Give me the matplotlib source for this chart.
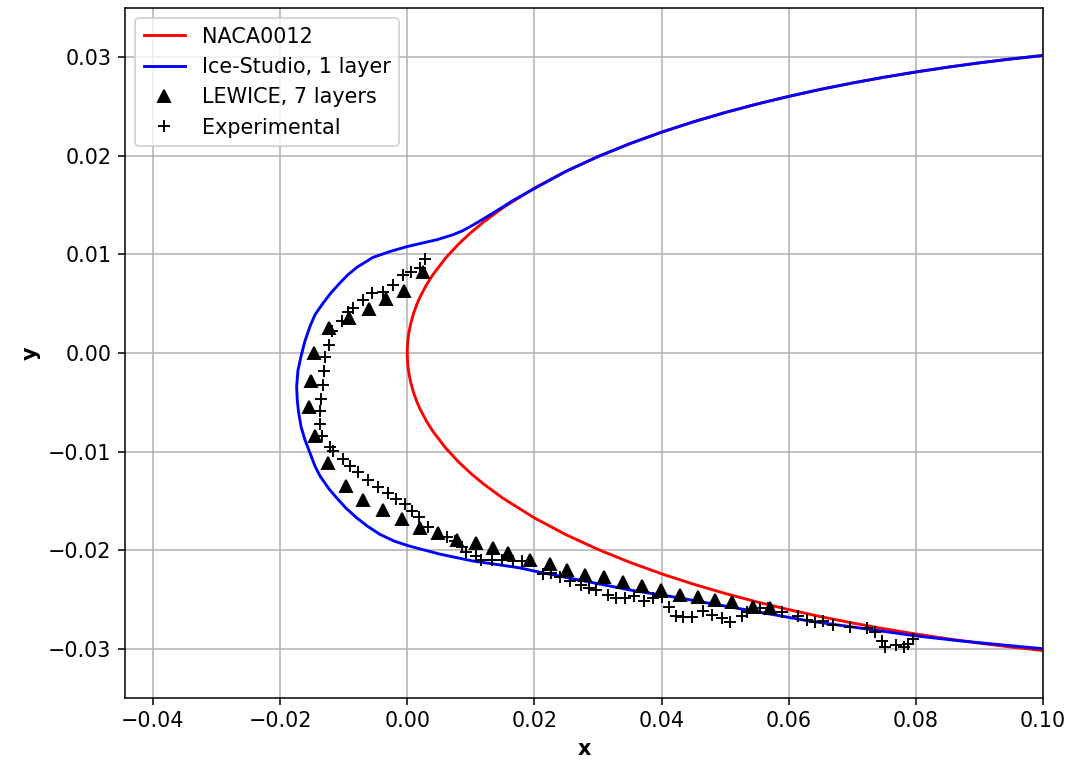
import matplotlib
matplotlib.use("Agg")
import matplotlib.pyplot as plt

# NACA0012 contour (upper side from x=0.1 to the leading edge, then lower side)
naca_x_upper = [0.1, 0.095, 0.09, 0.085, 0.08, 0.075, 0.07, 0.065, 0.06, 0.055, 0.05, 0.045,
                0.04, 0.035, 0.03, 0.025, 0.02, 0.015, 0.012, 0.01, 0.008, 0.006, 0.004,
                0.003, 0.002, 0.0015, 0.001, 0.0005, 0.0002, 0.0001, 0.00005, 0.00001, 0.0]
naca_y_upper = [0.030186, 0.029831, 0.029434, 0.028995, 0.028510, 0.027976, 0.027388,
                0.026743, 0.026033, 0.025254, 0.024396, 0.023449, 0.022401, 0.021234,
                0.019927, 0.018443, 0.016734, 0.014713, 0.013289, 0.012215, 0.011007,
                0.009610, 0.007920, 0.006896, 0.005666, 0.004925, 0.004038, 0.002871,
                0.001825, 0.001294, 0.000916, 0.000411, 0.0]
naca_x_lower = [0.00001, 0.00005, 0.0001, 0.0002, 0.0005, 0.001, 0.0015, 0.002, 0.003,
                0.004, 0.006, 0.008, 0.01, 0.012, 0.015, 0.02, 0.025, 0.03, 0.035, 0.04,
                0.045, 0.05, 0.055, 0.06, 0.065, 0.07, 0.075, 0.08, 0.085, 0.09, 0.095, 0.1]
naca_y_lower = [-0.000411, -0.000916, -0.001294, -0.001825, -0.002871, -0.004038, -0.004925,
                -0.005666, -0.006896, -0.007920, -0.009610, -0.011007, -0.012215, -0.013289,
                -0.014713, -0.016734, -0.018443, -0.019927, -0.021234, -0.022401, -0.023449,
                -0.024396, -0.025254, -0.026033, -0.026743, -0.027388, -0.027976, -0.028510,
                -0.028995, -0.029434, -0.029831, -0.030186]

# Ice-Studio, 1 layer ice shape
ice_x = [0.1, 0.095, 0.09, 0.085, 0.08, 0.075, 0.07, 0.065, 0.06, 0.055, 0.05, 0.045, 0.04,
         0.035, 0.03, 0.025, 0.0209, 0.0167, 0.0135, 0.0104, 0.0087, 0.0072, 0.0047, 0.0020,
         0.0, -0.0027, -0.0054, -0.0079, -0.0094, -0.0106, -0.0120, -0.0132, -0.0145, -0.0153,
         -0.0161, -0.0167, -0.0172, -0.0174, -0.0173, -0.0171, -0.0167, -0.0161, -0.0145,
         -0.0137, -0.0123, -0.0111, -0.0097, -0.0080, -0.0062, -0.0043, -0.0020, 0.0004,
         0.0051, 0.0103, 0.0146, 0.0177, 0.0198, 0.0276, 0.0355, 0.0424, 0.0476, 0.0555,
         0.0633, 0.0712, 0.0800, 0.0869, 0.0950, 0.1]
ice_y = [0.030186, 0.029831, 0.029434, 0.028995, 0.028510, 0.027976, 0.027388, 0.026743,
         0.026033, 0.025254, 0.024396, 0.023449, 0.022401, 0.021234, 0.019927, 0.018443,
         0.0170, 0.0155, 0.0142, 0.0130, 0.0124, 0.0120, 0.0115, 0.0111, 0.0108, 0.0103,
         0.0097, 0.0087, 0.0079, 0.0071, 0.0061, 0.0051, 0.0039, 0.0027, 0.0012, -0.0003,
         -0.0018, -0.0034, -0.0048, -0.0060, -0.0075, -0.0088, -0.0115, -0.0125, -0.0138,
         -0.0147, -0.0157, -0.0167, -0.0176, -0.0184, -0.0191, -0.0196, -0.0204, -0.0211,
         -0.0215, -0.0218, -0.0221, -0.0231, -0.0241, -0.0248, -0.0254, -0.0263, -0.0272,
         -0.0279, -0.0287, -0.0292, -0.0297, -0.0300]

# LEWICE, 7 layers
lew_x = [0.0025, -0.0005, -0.0034, -0.0060, -0.0092, -0.0123, -0.0147, -0.0152, -0.0155,
         -0.0145, -0.0125, -0.0097, -0.0070, -0.0038, -0.0008, 0.0020, 0.0048, 0.0078,
         0.0108, 0.0135, 0.0159, 0.0193, 0.0224, 0.0251, 0.0280, 0.0310, 0.0340, 0.0369,
         0.0399, 0.0429, 0.0457, 0.0484, 0.0511, 0.0544, 0.0571]
lew_y = [0.0082, 0.0063, 0.0055, 0.0045, 0.0036, 0.0025, 0.0000, -0.0028, -0.0055,
         -0.0084, -0.0112, -0.0135, -0.0149, -0.0159, -0.0168, -0.0178, -0.0183, -0.0190,
         -0.0193, -0.0198, -0.0203, -0.0210, -0.0214, -0.0220, -0.0225, -0.0227, -0.0232,
         -0.0236, -0.0240, -0.0245, -0.0248, -0.0251, -0.0253, -0.0258, -0.0259]

# Experimental
exp_x = [0.0028, 0.0020, 0.0006, -0.0007, -0.0022, -0.0038, -0.0056, -0.0069, -0.0085,
         -0.0093, -0.0103, -0.0119, -0.0123, -0.0130, -0.0131, -0.0132, -0.0136, -0.0137,
         -0.0137, -0.0134, -0.0122, -0.0117, -0.0101, -0.0090, -0.0078, -0.0062, -0.0046,
         -0.0030, -0.0018, -0.0004, 0.0007, 0.0018, 0.0033, 0.0062, 0.0075, 0.0086, 0.0092,
         0.0108, 0.0116, 0.0133, 0.0149, 0.0167, 0.0180, 0.0213, 0.0226, 0.0240, 0.0256,
         0.0273, 0.0286, 0.0297, 0.0316, 0.0328, 0.0342, 0.0356, 0.0372, 0.0387, 0.0400,
         0.0412, 0.0423, 0.0434, 0.0448, 0.0465, 0.0479, 0.0495, 0.0508, 0.0526, 0.0534,
         0.0555, 0.0567, 0.0589, 0.0614, 0.0628, 0.0641, 0.0654, 0.0670, 0.0697, 0.0723,
         0.0736, 0.0747, 0.0751, 0.0769, 0.0781, 0.0787, 0.0795]
exp_y = [0.0095, 0.0086, 0.0082, 0.0079, 0.0069, 0.0062, 0.0061, 0.0054, 0.0046, 0.0042,
         0.0032, 0.0022, 0.0008, -0.0004, -0.0018, -0.0032, -0.0047, -0.0059, -0.0072,
         -0.0084, -0.0095, -0.0099, -0.0108, -0.0115, -0.0121, -0.0129, -0.0136, -0.0142,
         -0.0148, -0.0153, -0.0160, -0.0166, -0.0177, -0.0187, -0.0191, -0.0197, -0.0202,
         -0.0206, -0.0210, -0.0210, -0.0210, -0.0211, -0.0211, -0.0224, -0.0223, -0.0227,
         -0.0231, -0.0235, -0.0238, -0.0240, -0.0246, -0.0249, -0.0249, -0.0247, -0.0252,
         -0.0249, -0.0248, -0.0258, -0.0267, -0.0268, -0.0268, -0.0262, -0.0266, -0.0269,
         -0.0273, -0.0267, -0.0263, -0.0259, -0.0259, -0.0263, -0.0267, -0.0271, -0.0273,
         -0.0272, -0.0276, -0.0278, -0.0279, -0.0283, -0.0292, -0.0298, -0.0296, -0.0298,
         -0.0295, -0.0290]

plt.rcParams["font.size"] = 10.8

DPI = 138
fig = plt.figure(figsize=(1085 / DPI, 760 / DPI), dpi=DPI)
ax = fig.add_axes([125 / 1085, 1 - 698 / 760, (1043 - 125) / 1085, (698 - 8) / 760])

ax.plot(naca_x_upper + naca_x_lower, naca_y_upper + naca_y_lower, color="red", label="NACA0012")
ax.plot(ice_x, ice_y, color="blue", label="Ice-Studio, 1 layer")
ax.plot(lew_x, lew_y, linestyle="none", marker="^", color="black", markersize=6.5,
        label="LEWICE, 7 layers")
ax.plot(exp_x, exp_y, linestyle="none", marker="+", color="black", markersize=6.5,
        label="Experimental")

ax.set_xlim(-0.0444, 0.1)
ax.set_ylim(-0.035, 0.035)
ax.set_xlabel("x", fontweight="bold")
ax.set_ylabel("y", fontweight="bold")
ax.grid(True)
ax.legend(loc="upper left")

fig.savefig("out.png", dpi=DPI)
